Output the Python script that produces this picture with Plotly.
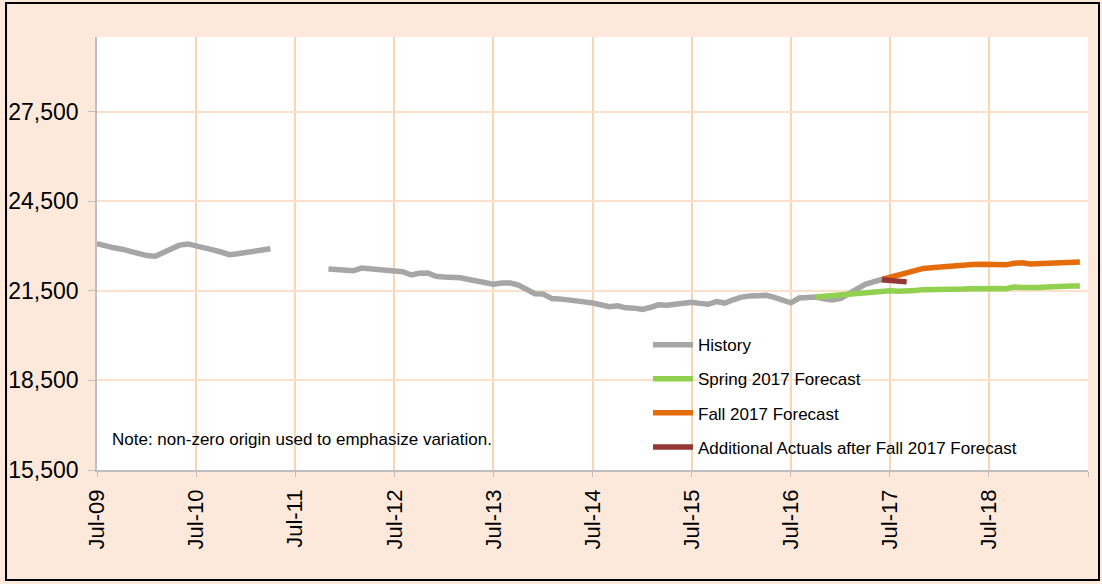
import pandas as pd
import plotly.graph_objects as go

# History, part 1: Jul-09 .. Apr-11 (monthly)
hist1_start = "2009-07-01"
hist1_vals = [23080, 22995, 22940, 22895, 22820, 22730, 22680, 22660, 22780, 22950,
              23030, 23070, 22990, 22920, 22870, 22800, 22710, 22740, 22790, 22800,
              22870, 22910]

# History, part 2: Nov-11 .. Jun-17 (monthly)
hist2_start = "2011-11-01"
hist2_vals = [22230, 22210, 22190, 22170, 22260, 22240, 22190, 22215, 22190, 22140,
              22030, 22090, 22100, 21990, 21960, 21950, 21935, 21880, 21820, 21780,
              21720, 21760, 21760, 21690, 21520, 21400, 21390, 21240, 21230, 21210,
              21165, 21130, 21090, 21030, 20970, 21000, 20930, 20920, 20880, 20950,
              21030, 21020, 21040, 21090, 21120, 21080, 21050, 21140, 21090, 21200,
              21290, 21330, 21340, 21350, 21280, 21200, 21100, 21260, 21280, 21295,
              21230, 21190, 21250, 21420, 21600, 21720, 21800, 21880]

# Spring 2017 forecast: Oct-16 .. Jun-19
spring_start = "2016-10-01"
spring_vals = [21295, 21320, 21350, 21380, 21405, 21430, 21460, 21475, 21490, 21500,
               21490, 21490, 21510, 21540, 21540, 21520, 21530, 21560, 21560, 21570,
               21585, 21595, 21580, 21570, 21625, 21610, 21600, 21610, 21630, 21650,
               21655, 21660, 21665]

# Fall 2017 forecast: Jun-17 .. Jun-19
fall_start = "2017-06-01"
fall_vals = [21880, 21950, 22010, 22080, 22170, 22250, 22270, 22300, 22320, 22340,
             22370, 22385, 22390, 22390, 22380, 22370, 22420, 22440, 22400, 22410,
             22440, 22460, 22465, 22466, 22466]

# Additional actuals after Fall 2017 forecast: Jun-17 .. Sep-17
extra_start = "2017-06-01"
extra_vals = [21870, 21840, 21850, 21800]

y_ticks = [15500, 18500, 21500, 24500, 27500]
x_ticks = [f"{y}-07-01" for y in range(2009, 2020)]
x_labels = [f"Jul-{y % 100:02d}" for y in range(2009, 2019)] + [""]


def months(start, n):
    return list(pd.date_range(start, periods=n, freq="MS"))


hist_x = months(hist1_start, len(hist1_vals)) + [None] + months(hist2_start, len(hist2_vals))
hist_y = hist1_vals + [None] + hist2_vals

FONT = "Liberation Sans, Arial, sans-serif"

fig = go.Figure()
series = [
    ("History", hist_x, hist_y, "#A6A6A6"),
    ("Spring 2017 Forecast", months(spring_start, len(spring_vals)), spring_vals, "#92D050"),
    ("Fall 2017 Forecast", months(fall_start, len(fall_vals)), fall_vals, "#E46C0A"),
    ("Additional Actuals after Fall 2017 Forecast", months(extra_start, len(extra_vals)),
     extra_vals, "#953735"),
]
for name, xs, ys, col in series:
    fig.add_trace(go.Scatter(x=xs, y=ys, name=name, mode="lines", legendgroup=name,
                             line=dict(color=col, width=5.5), connectgaps=False))

# white boxes behind the legend and the note (hide gridlines)
fig.add_shape(type="rect", xref="paper", yref="paper", x0=0.548, x1=0.992, y0=0.009, y1=0.328,
              fillcolor="white", line_width=0, layer="between")
fig.add_shape(type="rect", xref="paper", yref="paper", x0=0.008, x1=0.405, y0=0.018, y1=0.1085,
              fillcolor="white", line_width=0, layer="between")
# outer frame
fig.add_shape(type="rect", xref="paper", yref="paper", x0=-0.0918, x1=1.0111, y0=-0.254, y1=1.0785,
              line=dict(color="black", width=2), fillcolor="rgba(0,0,0,0)")

fig.add_annotation(text="Note: non-zero origin used to emphasize variation.",
                   xref="paper", yref="paper", x=0.013, y=0.07, xanchor="left", yanchor="middle",
                   showarrow=False, font=dict(size=17, color="black", family=FONT))

fig.update_layout(
    width=1102, height=584,
    margin=dict(l=97, r=14, t=37, b=114),
    paper_bgcolor="#FCE9DB", plot_bgcolor="white",
    font=dict(family=FONT, color="black"),
    showlegend=True,
    legend=dict(x=0.556, y=0.33, xanchor="left", yanchor="top", bgcolor="rgba(0,0,0,0)",
                font=dict(size=17, family=FONT), tracegroupgap=9, itemwidth=40),
)
fig.update_xaxes(range=["2009-07-01", "2019-07-01"], tickvals=x_ticks, ticktext=x_labels,
                 tickangle=-90, tickfont=dict(size=22), showgrid=True, gridcolor="#F9D5B3",
                 gridwidth=2, showline=True, linecolor="#BFBFBF", linewidth=1.5,
                 ticks="outside", ticklen=5, tickcolor="#BFBFBF", zeroline=False,
                 automargin=False, ticklabelstandoff=4)
fig.update_yaxes(range=[15500, 30000], tickvals=y_ticks, tickformat=",d",
                 tickfont=dict(size=23), showgrid=True, gridcolor="#FBE1CC", gridwidth=1.5,
                 showline=True, linecolor="#BFBFBF", linewidth=1.5, ticks="outside",
                 ticklen=7, tickcolor="#BFBFBF", zeroline=False, automargin=False,
                 ticklabelstandoff=5)

# drop the default 8px page margin so the figure fills the window
fig.write_html("out.html", config={"displayModeBar": False},
               post_script="document.body.style.margin='0';")
